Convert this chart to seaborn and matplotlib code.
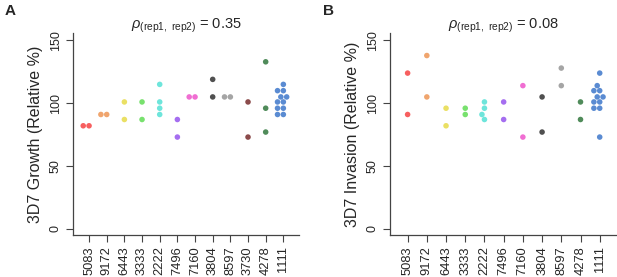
import numpy as np
import pandas as pd
import matplotlib
matplotlib.use('Agg')
import matplotlib.pyplot as plt
import seaborn as sns

# strains per panel
strains_growth = ['5083', '9172', '6443', '3333', '2222', '7496', '7160',
                  '3804', '8597', '3730', '4278', '1111']
strains_invasion = ['5083', '9172', '6443', '3333', '2222', '7496', '7160',
                    '3804', '8597', '4278', '1111']

# growth values (relative %)
g_5083 = [82, 82]
g_9172 = [91, 91]
g_6443 = [101, 87]
g_3333 = [101, 87]
g_2222 = [115, 101, 96, 91]
g_7496 = [87, 73]
g_7160 = [105, 105]
g_3804 = [119, 105]
g_8597 = [105, 105]
g_3730 = [101, 73]
g_4278 = [133, 96, 77]
g_1111 = [115, 110, 110, 105, 105, 101, 101, 96, 96, 91, 91]

# invasion values (relative %)
i_5083 = [124, 91]
i_9172 = [138, 105]
i_6443 = [96, 82]
i_3333 = [96, 91]
i_2222 = [101, 96, 91, 87]
i_7496 = [101, 87]
i_7160 = [114, 73]
i_3804 = [105, 77]
i_8597 = [128, 114]
i_4278 = [101, 87]
i_1111 = [124, 114, 110, 110, 105, 105, 101, 101, 96, 96, 73]

rho_growth = 0.35
rho_invasion = 0.08

colors = {'5083': '#f52a2a', '9172': '#eb873d', '6443': '#e4d630',
          '3333': '#4bd73d', '2222': '#3dddd0', '7496': '#873deb',
          '7160': '#eb3dc3', '3804': '#151515', '8597': '#878787',
          '3730': '#650f0f', '4278': '#156523', '1111': '#2365c3'}

growth = [g_5083, g_9172, g_6443, g_3333, g_2222, g_7496, g_7160,
          g_3804, g_8597, g_3730, g_4278, g_1111]
invasion = [i_5083, i_9172, i_6443, i_3333, i_2222, i_7496, i_7160,
            i_3804, i_8597, i_4278, i_1111]


def to_long(names, vals):
    rows = []
    for n, v in zip(names, vals):
        for x in v:
            rows.append({'strain': n, 'value': x})
    return pd.DataFrame(rows)


df_g = to_long(strains_growth, growth)
df_i = to_long(strains_invasion, invasion)

sns.set_style('white')
plt.rcParams['font.family'] = ['Liberation Sans', 'DejaVu Sans']
plt.rcParams['mathtext.fontset'] = 'custom'
plt.rcParams['mathtext.rm'] = 'Liberation Sans'
plt.rcParams['mathtext.it'] = 'Liberation Sans:italic'

fig = plt.figure(figsize=(6.17, 2.77), dpi=100)
ax1 = fig.add_axes([0.118, 0.152, 0.367, 0.729])
ax2 = fig.add_axes([0.632, 0.152, 0.368, 0.729])


def draw(ax, df, order, ylabel, rho):
    sns.swarmplot(data=df, x='strain', y='value', hue='strain', order=order,
                  palette=colors, size=4.0, alpha=0.75, legend=False, ax=ax)
    ax.set_xlim(-0.92, len(order) - 0.1)
    ax.set_ylim(-5, 156)
    ax.set_yticks([0, 50, 100, 150])
    ax.set_yticklabels(['0', '50', '100', '150'], rotation=90, va='center',
                       fontsize=9)
    ax.set_xticks(range(len(order)))
    ax.set_xticklabels(order, rotation=90, fontsize=9.3)
    ax.tick_params(axis='both', direction='out', length=5, width=0.8,
                   color='#444444', left=True, bottom=True, pad=3)
    ax.set_xlabel('')
    ax.set_ylabel(ylabel, fontsize=11.5, labelpad=5)
    for s in ['top', 'right']:
        ax.spines[s].set_visible(False)
    for s in ['left', 'bottom']:
        ax.spines[s].set_color('#444444')
        ax.spines[s].set_linewidth(0.9)
    ax.set_title(r'$\rho_{\mathrm{(rep1,\ rep2)}}$' + ' = %.2f' % rho,
                 fontsize=10.5, pad=3)


draw(ax1, df_g, strains_growth, '3D7 Growth (Relative %)', rho_growth)
draw(ax2, df_i, strains_invasion, '3D7 Invasion (Relative %)', rho_invasion)

fig.text(0.008, 0.962, 'A', fontsize=11, fontweight='bold', va='center')
fig.text(0.523, 0.962, 'B', fontsize=11, fontweight='bold', va='center')

plt.savefig('out.png', dpi=100)
